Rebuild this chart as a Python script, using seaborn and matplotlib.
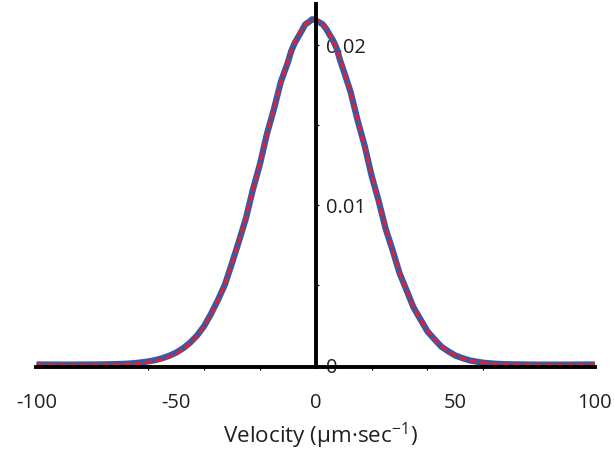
import matplotlib
matplotlib.use("Agg")
import matplotlib.pyplot as plt
from matplotlib.ticker import FixedLocator, NullFormatter
import pandas as pd
import seaborn as sns

# Velocity bins (um/s)
velocity = [-100, -90, -80, -75, -70, -67.5, -65, -62.5, -60, -57.5, -55, -52.5,
            -50, -47.5, -45, -42.5, -40, -37.5, -35, -32.5, -30, -27.5, -25, -22.5,
            -20, -17.5, -15, -12.5, -10, -8.75, -7.5, -6.25, -5, -3.75, -2.5, -1.25,
            0, 1.25, 2.5, 3.75, 5, 6.25, 7.5, 8.75, 10, 12.5,
            15, 17.5, 20, 22.5, 25, 27.5, 30, 32.5, 35, 37.5, 40, 42.5, 45, 47.5,
            50, 52.5, 55, 57.5, 60, 62.5, 65, 67.5, 70, 75, 80, 90, 100]

# Measured velocity distribution
measured = [0.00002, 0.00001, 0.00002, 0.00003, 0.00005, 0.00007, 0.00010, 0.00015,
            0.00021, 0.00029, 0.00041, 0.00056, 0.00076, 0.00103, 0.00138, 0.00183,
            0.00241, 0.00318, 0.00405, 0.00502, 0.00634, 0.00772, 0.00915, 0.01095,
            0.01252, 0.01441, 0.01596, 0.01768, 0.01889, 0.01962, 0.02012, 0.02050,
            0.02088, 0.02128, 0.02142, 0.02160,
            0.02152, 0.02141, 0.02128, 0.02100, 0.02062, 0.02026, 0.01978, 0.01902,
            0.01838, 0.01705, 0.01528, 0.01371,
            0.01183, 0.01027, 0.00853, 0.00718, 0.00574, 0.00467, 0.00359, 0.00284,
            0.00209, 0.00160, 0.00113, 0.00084, 0.00058, 0.00042, 0.00028, 0.00020,
            0.00013, 0.00009, 0.00006, 0.00004, 0.00003, 0.00002, 0.00001, 0.00001,
            0.00002]

# Fitted distribution
fitted = [0.0, 0.0, 0.000002, 0.000008, 0.000023, 0.000038, 0.000060, 0.000094,
          0.000144, 0.000218, 0.000323, 0.000471, 0.000674, 0.000947, 0.00131, 0.00178,
          0.00237, 0.00311, 0.00401, 0.00507, 0.00630, 0.00769, 0.00923, 0.01088,
          0.01260, 0.01433, 0.01603, 0.01760, 0.01898, 0.01959, 0.02013, 0.02058,
          0.02097, 0.02125, 0.02145, 0.02155,
          0.02156, 0.02148, 0.02130, 0.02103, 0.02066, 0.02022, 0.01971, 0.01911,
          0.01846, 0.01698, 0.01535, 0.01364,
          0.01190, 0.01021, 0.00860, 0.00712, 0.00579, 0.00463, 0.00363, 0.00280,
          0.00212, 0.00157, 0.00115, 0.000829, 0.000585, 0.000405, 0.000276, 0.000185,
          0.000122, 0.000079, 0.000050, 0.000031, 0.000019, 0.000007, 0.000002, 0.0,
          0.0]

x_ticks = [-100, -50, 0, 50, 100]
x_tick_labels = ["-100", "-50", "0", "50", "100"]
x_minor_ticks = [-60, -40, -20, 20, 40, 60]
y_ticks = [0, 0.01, 0.02]
y_tick_labels = ["0", "0.01", "0.02"]
y_minor_ticks = [0.005, 0.015]

sns.set_theme(style="white")
plt.rcParams["font.family"] = ["Open Sans", "DejaVu Sans"]
plt.rcParams["mathtext.fontset"] = "custom"
plt.rcParams["mathtext.rm"] = "Open Sans"

text_color = "#231f20"
blue = "#3658a6"
red = "#f01c24"

df = pd.DataFrame({"velocity": velocity, "measured": measured, "fitted": fitted})

fig = plt.figure(figsize=(6.14, 4.52), dpi=100)
ax = fig.add_axes([0.0594, 0.1852, 0.9096, 0.8037])

sns.lineplot(data=df, x="velocity", y="measured", ax=ax, color=blue, lw=4.5,
             solid_capstyle="butt", solid_joinstyle="round")
sns.lineplot(data=df, x="velocity", y="fitted", ax=ax, color=red, lw=2.0,
             linestyle=(0, (2.7, 1.2)))

ax.set_xlim(-100, 100)
ax.set_ylim(-0.000156, 0.02255)

# y axis drawn through x = 0, ticks and labels to its right
for side in ("left", "top"):
    ax.spines[side].set_visible(False)
ax.spines["right"].set_position(("data", 0))
for side in ("right", "bottom"):
    ax.spines[side].set_visible(True)
    ax.spines[side].set_color("black")
    ax.spines[side].set_linewidth(2.8)

ax.yaxis.tick_right()
ax.yaxis.set_major_locator(FixedLocator(y_ticks))
ax.set_yticklabels(y_tick_labels)
ax.yaxis.set_minor_locator(FixedLocator(y_minor_ticks))
ax.yaxis.set_minor_formatter(NullFormatter())
ax.tick_params(axis="y", which="both", direction="out", length=2.3, width=0.8,
               color="black", right=True, left=False, pad=5,
               labelsize=14.5, labelcolor=text_color)

ax.set_xticks(x_ticks)
ax.set_xticklabels(x_tick_labels)
ax.xaxis.set_minor_locator(FixedLocator(x_minor_ticks))
ax.tick_params(axis="x", which="major", length=0, pad=17.5, labelsize=14.5,
               labelcolor=text_color, bottom=True)
ax.tick_params(axis="x", which="minor", direction="out", length=2.3, width=0.8,
               color="black", bottom=True)

ax.set_xlabel("")
ax.set_ylabel("")
ax.grid(False)

fig.text(320 / 614, (452 - 443) / 452, r"Velocity (μm·sec$^{\mathregular{-1}}$)",
         ha="center", va="baseline", fontsize=16.2, color=text_color)

fig.savefig("out.png", dpi=100)
